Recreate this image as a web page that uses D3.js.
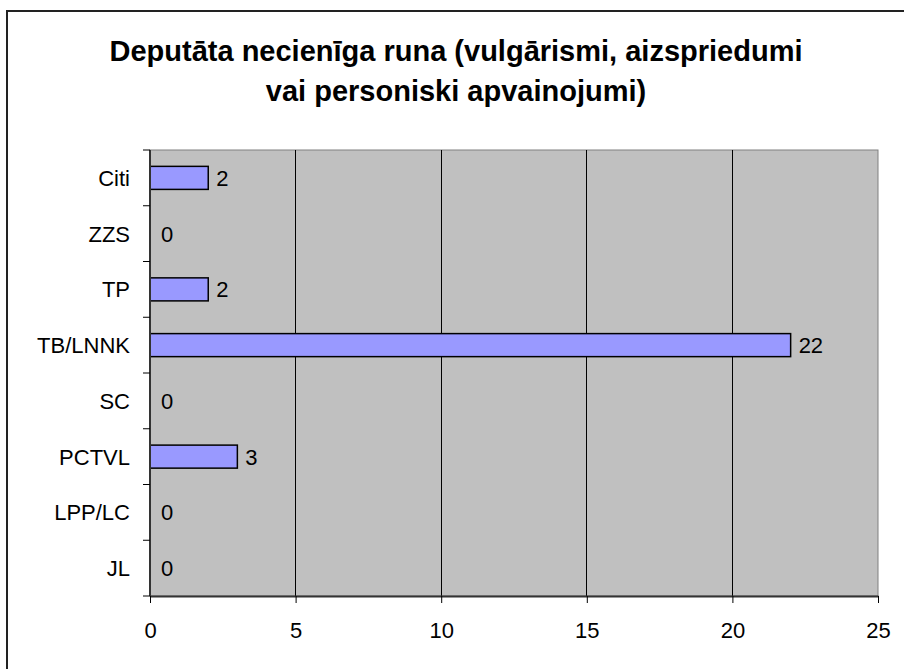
<!doctype html>
<html>
<head>
<meta charset="utf-8">
<script src="https://cdn.jsdelivr.net/npm/d3@7"></script>
<style>
  body { margin: 0; background: #fff; }
  text { font-family: "Liberation Sans", Arial, sans-serif; fill: #000; }
</style>
</head>
<body>
<div id="chart"></div>
<script>
var categories = ["JL", "LPP/LC", "PCTVL", "SC", "TB/LNNK", "TP", "ZZS", "Citi"];
var values = [0, 0, 3, 0, 22, 2, 0, 2];
var xTicks = [0, 5, 10, 15, 20, 25];
var titleLines = ["Deputāta necienīga runa (vulgārismi, aizspriedumi", "vai personiski apvainojumi)"];

var W = 904, H = 669;
var margin = {top: 150, right: 26, bottom: 73, left: 150};
var width = W - margin.left - margin.right,
    height = H - margin.top - margin.bottom;

var svg = d3.select("#chart").append("svg")
  .attr("width", W).attr("height", H);

// outer frame
svg.append("rect")
  .attr("x", 7).attr("y", 11).attr("width", W + 10).attr("height", H + 10)
  .attr("fill", "#fff").attr("stroke", "#222").attr("stroke-width", 2);

svg.selectAll(".title").data(titleLines).enter().append("text")
  .attr("x", 456).attr("y", function(d, i) { return 61 + i * 40; })
  .attr("text-anchor", "middle")
  .style("font-size", "29px").style("font-weight", "bold")
  .text(function(d) { return d; });

var g = svg.append("g").attr("transform", "translate(" + margin.left + "," + margin.top + ")");

var x = d3.scaleLinear().domain([0, 25]).range([0, width]);
var y = d3.scaleBand().domain(categories.slice().reverse()).range([0, height]).paddingInner(0.587).paddingOuter(0.2935);

g.append("rect").attr("width", width).attr("height", height)
  .attr("fill", "#c0c0c0").attr("stroke", "#808080").attr("stroke-width", 1);

// gridlines
g.selectAll(".grid").data(xTicks.slice(1, -1)).enter().append("line")
  .attr("x1", function(d) { return x(d); }).attr("x2", function(d) { return x(d); })
  .attr("y1", 0).attr("y2", height)
  .attr("stroke", "#000").attr("stroke-width", 1).attr("shape-rendering", "crispEdges");

// bars
g.selectAll(".bar").data(categories).enter().append("rect")
  .filter(function(d, i) { return values[i] > 0; })
  .attr("x", x(0))
  .attr("y", function(d) { return y(d); })
  .attr("width", function(d) { return x(values[categories.indexOf(d)]) - x(0); })
  .attr("height", y.bandwidth())
  .attr("fill", "#9999ff").attr("stroke", "#000").attr("stroke-width", 1.5);

// value labels
g.selectAll(".val").data(categories).enter().append("text")
  .attr("x", function(d, i) { return x(values[i]) + (values[i] > 0 ? 8 : 11); })
  .attr("y", function(d) { return y(d) + y.bandwidth() / 2; })
  .attr("dy", "0.36em")
  .style("font-size", "22px")
  .text(function(d, i) { return values[i]; });

// x axis
var xAxis = g.append("g").attr("transform", "translate(0," + height + ")")
  .call(d3.axisBottom(x).tickValues(xTicks).tickSize(7).tickPadding(19).tickSizeOuter(0));
xAxis.select(".domain").attr("stroke", "#333").attr("stroke-width", 2);
xAxis.selectAll(".tick line").attr("stroke", "#000");
xAxis.selectAll("text").style("font-size", "22px").style("font-family", "Liberation Sans, Arial, sans-serif");

// y axis: ticks at category boundaries
var step = height / categories.length;
var yAx = g.append("g");
yAx.append("line").attr("x1", 0).attr("x2", 0).attr("y1", 0).attr("y2", height)
  .attr("stroke", "#333").attr("stroke-width", 2);
yAx.selectAll(".yt").data(d3.range(categories.length + 1)).enter().append("line")
  .attr("x1", -7).attr("x2", 0)
  .attr("y1", function(d) { return d * step; }).attr("y2", function(d) { return d * step; })
  .attr("stroke", "#000").attr("stroke-width", 1);
yAx.selectAll(".yl").data(categories).enter().append("text")
  .attr("x", -20)
  .attr("y", function(d) { return y(d) + y.bandwidth() / 2; })
  .attr("dy", "0.36em").attr("text-anchor", "end")
  .style("font-size", "22px")
  .text(function(d) { return d; });
</script>
</body>
</html>
